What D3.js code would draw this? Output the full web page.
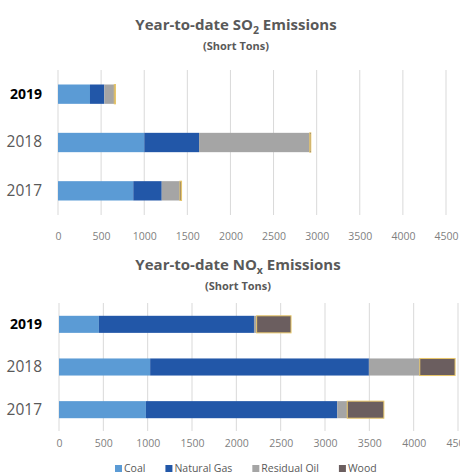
<!DOCTYPE html>
<html>
<head>
<meta charset="utf-8">
<script src="https://cdn.jsdelivr.net/npm/d3@7"></script>
<style>
  html, body { margin: 0; padding: 0; background: #fff; }
  svg { display: block; font-family: "Open Sans", "Noto Sans", sans-serif; }
</style>
</head>
<body>
<svg id="chart" width="460" height="476"></svg>
<script>
// Years shown on each chart, top to bottom
const years = ["2019", "2018", "2017"];
const fuels = ["Coal", "Natural Gas", "Residual Oil", "Wood"];
const fuelColors = ["#5b9bd5", "#2257a8", "#a5a5a5", "#6b5e5f"];
const xTicks = [0, 500, 1000, 1500, 2000, 2500, 3000, 3500, 4000, 4500];

// SO2 emissions (short tons) by fuel, per year in the order of `years`
const so2Coal = [371, 1001, 873];
const so2Gas = [166, 635, 330];
const so2Oil = [116, 1284, 212];
const so2Wood = [14, 12, 18];

// NOx emissions (short tons) by fuel, per year in the order of `years`
const noxCoal = [450, 1028, 980];
const noxGas = [1749, 2467, 2158];
const noxOil = [30, 574, 113];
const noxWood = [388, 398, 413];

const svg = d3.select("#chart");

function rows(coal, gas, oil, wood) {
  return years.map((y, i) => ({
    year: y,
    "Coal": coal[i],
    "Natural Gas": gas[i],
    "Residual Oil": oil[i],
    "Wood": wood[i]
  }));
}

function drawPanel(opts) {
  const g = svg.append("g");
  const x = d3.scaleLinear().domain([0, 4500]).range([opts.x0, opts.x1]);
  const y = d3.scaleBand().domain(years).range([opts.y0, opts.y1])
    .paddingInner(0.6).paddingOuter(0.3);
  const color = d3.scaleOrdinal().domain(fuels).range(fuelColors);

  // Title with subscript
  const t = g.append("text")
    .attr("x", opts.cx).attr("y", opts.titleY)
    .attr("text-anchor", "middle")
    .attr("font-size", 15).attr("font-weight", 700).attr("fill", "#595959");
  t.append("tspan").text(opts.title[0]);
  t.append("tspan").attr("font-size", 10.5).attr("dy", 4).text(opts.title[1]);
  t.append("tspan").attr("dy", -4).text(opts.title[2]);

  g.append("text")
    .attr("x", opts.cx).attr("y", opts.titleY + 20)
    .attr("text-anchor", "middle")
    .attr("font-size", 11).attr("font-weight", 700).attr("fill", "#595959")
    .text("(Short Tons)");

  // Vertical gridlines
  g.append("g").selectAll("line").data(xTicks).join("line")
    .attr("x1", d => x(d)).attr("x2", d => x(d))
    .attr("y1", opts.y0).attr("y2", opts.y1)
    .attr("stroke", "#d9d9d9").attr("stroke-width", 1);

  // X axis tick labels
  const xAxis = d3.axisBottom(x).tickValues(xTicks).tickSize(0).tickPadding(0)
    .tickFormat(d3.format("d"));
  const ax = g.append("g").attr("transform", `translate(0,${opts.tickY})`).call(xAxis);
  ax.select(".domain").remove();
  ax.selectAll("text").attr("font-size", 10.5).attr("fill", "#7f7f7f")
    .attr("font-family", "Open Sans, sans-serif").attr("dy", 0);

  // Year labels
  const yAxis = d3.axisLeft(y).tickSize(0).tickPadding(0);
  const ay = g.append("g").attr("transform", `translate(${opts.labelX},0)`).call(yAxis);
  ay.select(".domain").remove();
  ay.selectAll("text")
    .attr("font-family", "Open Sans, sans-serif")
    .attr("font-size", d => d === "2019" ? 14 : 15.5)
    .attr("font-weight", d => d === "2019" ? 700 : 400)
    .attr("fill", d => d === "2019" ? "#000" : "#595959");

  // Stacked bars
  const stacked = d3.stack().keys(fuels)(opts.data);
  g.append("g").selectAll("g").data(stacked).join("g")
    .attr("fill", d => color(d.key))
    .selectAll("rect").data(d => d.map(v => Object.assign(v, { key: d.key }))).join("rect")
    .attr("x", d => x(d[0]))
    .attr("width", d => Math.max(0, x(d[1]) - x(d[0])))
    .attr("y", d => y(d.data.year))
    .attr("height", y.bandwidth())
    .attr("stroke", d => d.key === "Wood" ? "#e8c76a" : "none")
    .attr("stroke-width", 1);
}

drawPanel({
  title: ["Year-to-date SO", "2", " Emissions"],
  cx: 236, titleY: 30,
  x0: 58, x1: 446, y0: 70, y1: 215,
  tickY: 240, labelX: 42,
  data: rows(so2Coal, so2Gas, so2Oil, so2Wood)
});

drawPanel({
  title: ["Year-to-date NO", "x", " Emissions"],
  cx: 238, titleY: 270,
  x0: 59, x1: 458, y0: 303, y1: 431,
  tickY: 447, labelX: 42,
  data: rows(noxCoal, noxGas, noxOil, noxWood)
});

// Legend
const legend = svg.append("g").attr("transform", "translate(115,472)");
let lx = 0;
fuels.forEach((f, i) => {
  const item = legend.append("g").attr("transform", `translate(${lx},0)`);
  item.append("rect").attr("x", 0).attr("y", -7).attr("width", 7).attr("height", 7)
    .attr("fill", fuelColors[i]);
  const txt = item.append("text").attr("x", 9).attr("y", 0)
    .attr("font-size", 10.5).attr("fill", "#595959").text(f);
  lx += 9 + txt.node().getComputedTextLength() + 20;
});
</script>
</body>
</html>
